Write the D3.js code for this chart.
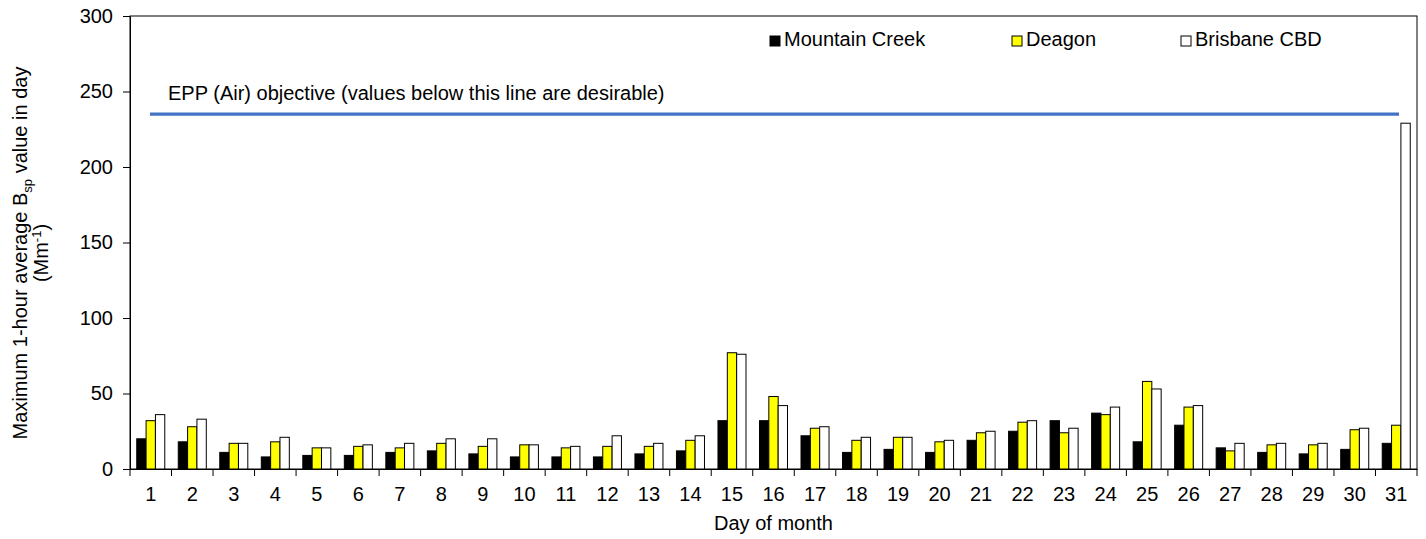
<!DOCTYPE html>
<html>
<head>
<meta charset="utf-8">
<script src="https://cdn.jsdelivr.net/npm/d3@7"></script>
<style>
  body { margin: 0; background: #fff; }
  svg { font-family: "Liberation Sans", Arial, sans-serif; }
</style>
</head>
<body>
<svg id="chart" width="1426" height="539"></svg>
<script>
// data
let days = d3.range(1, 32).map(String);
let seriesNames = ["Mountain Creek", "Deagon", "Brisbane CBD"];
let mountainCreek = [20, 18, 11, 8, 9, 9, 11, 12, 10, 8, 8, 8, 10, 12, 32, 32, 22, 11, 13, 11, 19, 25, 32, 37, 18, 29, 14, 11, 10, 13, 17];
let deagon = [32, 28, 17, 18, 14, 15, 14, 17, 15, 16, 14, 15, 15, 19, 77, 48, 27, 19, 21, 18, 24, 31, 24, 36, 58, 41, 12, 16, 16, 26, 29];
let brisbaneCBD = [36, 33, 17, 21, 14, 16, 17, 20, 20, 16, 15, 22, 17, 22, 76, 42, 28, 21, 21, 19, 25, 32, 27, 41, 53, 42, 17, 17, 17, 27, 229];
let yTicks = [0, 50, 100, 150, 200, 250, 300];
let objective = 235;
let colors = ["#000000", "#ffff00", "#ffffff"];

let fontSize = 20;
let svg = d3.select("#chart"),
    margin = { left: 130, right: 9, top: 16, bottom: 70 },
    width = 1426 - margin.left - margin.right,
    height = 539 - margin.top - margin.bottom,
    g = svg.append("g").attr("transform", `translate(${margin.left},${margin.top})`);

let x = d3.scaleBand().domain(days).range([0, width]).paddingInner(0.325).paddingOuter(0.1625);
let x1 = d3.scaleBand().domain(seriesNames).range([0, x.bandwidth()]);
let y = d3.scaleLinear().domain([0, 300]).range([height, 0]);

let table = days.map((d, i) => ({ day: d, values: [mountainCreek[i], deagon[i], brisbaneCBD[i]] }));

// plot box
g.append("rect").attr("width", width).attr("height", height)
  .attr("fill", "none").attr("stroke", "#000").attr("stroke-width", 1);

// bars
let group = g.selectAll(".day").data(table).enter().append("g")
  .attr("transform", d => `translate(${x(d.day)},0)`);
group.selectAll("rect").data(d => d.values.map((v, k) => ({ name: seriesNames[k], v, k })))
  .enter().append("rect")
  .attr("x", d => x1(d.name))
  .attr("y", d => y(d.v))
  .attr("width", x1.bandwidth())
  .attr("height", d => height - y(d.v))
  .attr("fill", d => colors[d.k])
  .attr("stroke", "#000").attr("stroke-width", 1);

// objective line
g.append("line").attr("x1", 20).attr("x2", width - 18)
  .attr("y1", y(objective)).attr("y2", y(objective))
  .attr("stroke", "#4472c4").attr("stroke-width", 3.3);
g.append("text").attr("x", 38).attr("y", y(objective) - 14)
  .attr("font-size", fontSize).text("EPP (Air) objective (values below this line are desirable)");

// y axis
let yAxis = g.append("g").call(d3.axisLeft(y).tickValues(yTicks).tickSize(7).tickPadding(10));
yAxis.select(".domain").attr("stroke", "#000");
yAxis.selectAll("text").attr("font-size", fontSize).attr("fill", "#000");

// x axis: ticks between categories
let xAxis = g.append("g").attr("transform", `translate(0,${height})`)
  .call(d3.axisBottom(x).tickSize(0).tickPadding(18));
xAxis.selectAll("text").attr("font-size", fontSize).attr("fill", "#000");
xAxis.selectAll(".sep").data(d3.range(days.length + 1)).enter().append("line")
  .attr("x1", i => i * x.step()).attr("x2", i => i * x.step())
  .attr("y1", 0).attr("y2", 7).attr("stroke", "#000");

// axis titles
svg.append("text").attr("x", margin.left + width / 2).attr("y", 530)
  .attr("text-anchor", "middle").attr("font-size", fontSize).text("Day of month");

let yt = svg.append("text").attr("transform", "translate(27,253) rotate(-90)")
  .attr("text-anchor", "middle").attr("font-size", fontSize);
yt.append("tspan").text("Maximum 1-hour average B");
yt.append("tspan").attr("font-size", 13).attr("dy", 5).text("sp");
yt.append("tspan").attr("dy", -5).text(" value in day");
let yt2 = svg.append("text").attr("transform", "translate(48,253) rotate(-90)")
  .attr("text-anchor", "middle").attr("font-size", fontSize);
yt2.append("tspan").text("(Mm");
yt2.append("tspan").attr("font-size", 13).attr("dy", -7).text("-1");
yt2.append("tspan").attr("dy", 7).text(")");

// legend
let legendX = [770, 1012, 1181];
let legend = svg.selectAll(".legend").data(seriesNames).enter().append("g")
  .attr("transform", (d, i) => `translate(${legendX[i]},36)`);
legend.append("rect").attr("width", 10).attr("height", 10)
  .attr("fill", (d, i) => colors[i]).attr("stroke", "#000");
legend.append("text").attr("x", 14).attr("y", 10).attr("font-size", fontSize).text(d => d);
</script>
</body>
</html>
